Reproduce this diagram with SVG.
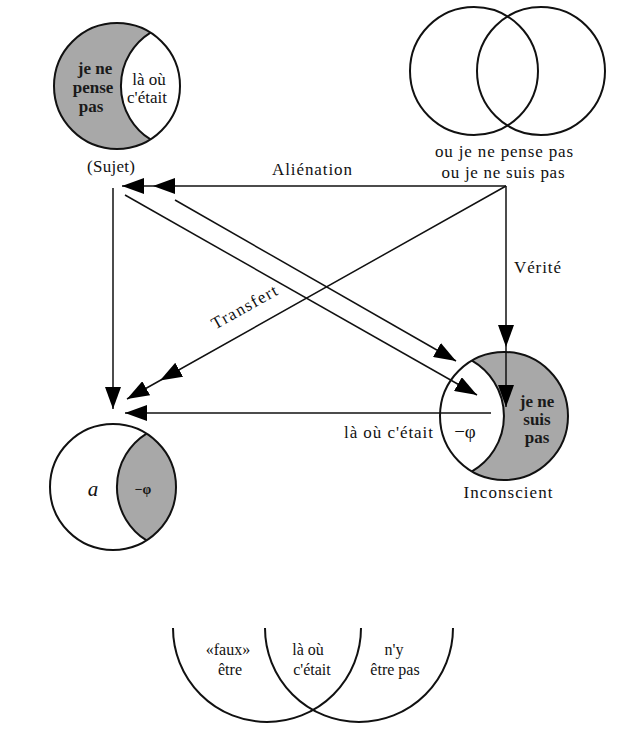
<svg xmlns="http://www.w3.org/2000/svg" width="632" height="733" viewBox="0 0 632 733">
<defs>
<marker id="ah" markerUnits="userSpaceOnUse" markerWidth="22" markerHeight="16" refX="22" refY="8" orient="auto">
<path d="M0,0 L22,8 L0,16 z" fill="#000"/>
</marker>
</defs>
<style>
text{font-family:'Liberation Serif','Times New Roman',serif;font-size:17px;fill:#111}
.c{text-anchor:middle}
.b{font-weight:bold;fill:#1a1a1a}
.o{fill:none;stroke:#111;stroke-width:2}
.g{fill:#a8a8a8}
.w{fill:#fff}
.ln{fill:none;stroke:#111;stroke-width:1.5}
</style>
<rect width="632" height="733" fill="#fff"/>
<g font-family="Liberation Serif, Times New Roman, serif">

<g id="sujet">
<circle class="g" cx="117" cy="86" r="63"/>
<path class="w" d="M150.5,32.6 A63,63 0 0 0 150.5,139.4 A63,63 0 0 0 150.5,32.6 Z"/>
<path class="o" d="M150.5,32.6 A63,63 0 0 0 150.5,139.4"/>
<circle class="o" cx="117" cy="86" r="63"/>
<text class="c b" x="95" y="74">je ne</text>
<text class="c b" x="93" y="93">pense</text>
<text class="c b" x="91" y="112">pas</text>
<text class="c" x="149" y="85">là où</text>
<text class="c" x="147" y="103">c'était</text>
<text class="c" x="111" y="172" textLength="48">(Sujet)</text>
</g>

<g id="venn">
<circle class="o" cx="474" cy="71" r="64"/>
<circle class="o" cx="541" cy="71" r="64"/>
<text class="c" x="504" y="157" textLength="138">ou je ne pense pas</text>
<text class="c" x="503" y="178" textLength="123">ou je ne suis pas</text>
</g>

<g id="inconscient">
<circle class="g" cx="504" cy="416" r="64"/>
<path class="w" d="M472,360.6 A64,64 0 0 1 472,471.4 A64,64 0 0 1 472,360.6 Z"/>
<path class="o" d="M472,360.6 A64,64 0 0 1 472,471.4"/>
<circle class="o" cx="504" cy="416" r="64"/>
<text class="c" x="465" y="438" style="font-size:19px">−φ</text>
<text class="c b" x="537" y="407">je ne</text>
<text class="c b" x="537" y="425">suis</text>
<text class="c b" x="537" y="443">pas</text>
<text class="c" x="508" y="498" textLength="89">Inconscient</text>
</g>

<g id="objet-a">
<circle class="w" cx="113" cy="487" r="63"/>
<path class="g" d="M146.5,433.6 A63,63 0 0 0 146.5,540.4 A63,63 0 0 0 146.5,433.6 Z"/>
<path class="o" d="M146.5,433.6 A63,63 0 0 0 146.5,540.4"/>
<circle class="o" cx="113" cy="487" r="63"/>
<text class="c" x="93" y="496" style="font-size:21px;font-style:italic">a</text>
<text class="c b" x="143" y="494" style="font-size:14px">−φ</text>
</g>

<g id="etre">
<path class="o" d="M173,628 A94,94 0 0 0 361,628" stroke-width="1.6"/>
<path class="o" d="M265,628 A94,94 0 0 0 453,628" stroke-width="1.6"/>
<text class="c" x="228" y="655" style="font-size:16px">«faux»</text>
<text class="c" x="230" y="675" style="font-size:16px">être</text>
<text class="c" x="308" y="655" style="font-size:16px">là où</text>
<text class="c" x="312" y="675" style="font-size:16px">c'était</text>
<text class="c" x="394" y="655" style="font-size:16px">n'y</text>
<text class="c" x="395" y="675" style="font-size:16px">être pas</text>
</g>

<g id="connectors">
<path class="ln" d="M506,186 L153,186 L122,186" marker-mid="url(#ah)" marker-end="url(#ah)"/>
<path class="ln" d="M506,186 L506,347 L506,407" marker-mid="url(#ah)" marker-end="url(#ah)"/>
<path class="ln" d="M506,186 L160,380.5 L127,399" marker-mid="url(#ah)" marker-end="url(#ah)"/>
<path class="ln" d="M125,195 L477,395" marker-end="url(#ah)"/>
<path class="ln" d="M175,200 L456,361" marker-end="url(#ah)"/>
<path class="ln" d="M113,188 L113,409" marker-end="url(#ah)"/>
<path class="ln" d="M491,413 L125,413" stroke="#555" marker-end="url(#ah)"/>
<text x="272" y="175" textLength="80">Aliénation</text>
<text x="514" y="273" textLength="47">Vérité</text>
<text class="c" x="0" y="0" textLength="73" transform="translate(247,312) rotate(-29.2)">Transfert</text>
<text x="344" y="438" textLength="89">là où c'était</text>
</g>
</g>
</svg>
